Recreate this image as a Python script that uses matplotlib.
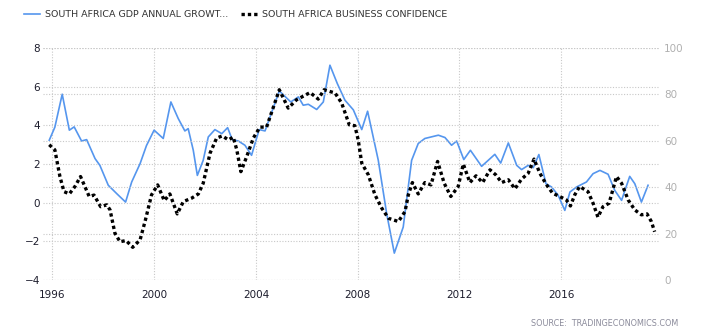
import numpy as np
import matplotlib
matplotlib.use('Agg')
import matplotlib.pyplot as plt

# GDP annual growth rate (%), left axis
gdp_t = [1995.88, 1996.10, 1996.39, 1996.67, 1996.86, 1997.15, 1997.35, 1997.68, 1997.87,
         1998.20, 1998.53, 1998.88, 1999.12, 1999.45, 1999.70, 2000.00, 2000.36, 2000.66,
         2000.95, 2001.21, 2001.34, 2001.54, 2001.70, 2001.93, 2002.13, 2002.39, 2002.66,
         2002.89, 2003.07, 2003.31, 2003.57, 2003.83, 2004.13, 2004.36, 2004.92, 2005.37,
         2005.67, 2005.86, 2006.06, 2006.39, 2006.65, 2006.91, 2007.20, 2007.50, 2007.83,
         2008.16, 2008.39, 2008.81, 2009.14, 2009.44, 2009.79, 2010.12, 2010.38, 2010.64,
         2011.17, 2011.43, 2011.69, 2011.89, 2012.17, 2012.43, 2012.87, 2013.39, 2013.62,
         2013.92, 2014.25, 2014.44, 2014.70, 2014.90, 2015.12, 2015.40, 2015.62, 2015.88,
         2016.14, 2016.34, 2016.60, 2016.99, 2017.25, 2017.52, 2017.84, 2018.10, 2018.37,
         2018.69, 2018.89, 2019.15, 2019.41]
gdp_v = [3.23, 3.90, 5.61, 3.75, 3.92, 3.19, 3.26, 2.28, 1.93,
         0.90, 0.47, 0.03, 1.07, 2.02, 2.95, 3.75, 3.32, 5.21,
         4.35, 3.71, 3.83, 2.71, 1.41, 2.19, 3.40, 3.78, 3.57,
         3.88, 3.26, 3.19, 2.97, 2.45, 3.78, 3.71, 5.78, 5.21,
         5.47, 5.04, 5.09, 4.82, 5.21, 7.11, 6.16, 5.30, 4.80,
         3.78, 4.73, 2.19, -0.57, -2.61, -1.26, 2.19, 3.06, 3.32,
         3.49, 3.37, 2.97, 3.19, 2.23, 2.71, 1.88, 2.50, 2.05,
         3.09, 1.93, 1.71, 1.93, 1.81, 2.49, 0.98, 0.81, 0.38,
         -0.40, 0.55, 0.81, 1.07, 1.50, 1.67, 1.47, 0.64, 0.12,
         1.36, 0.98, 0.03, 0.90]

# business confidence index, right axis
bc_t = [1995.88, 1996.10, 1996.30, 1996.46, 1996.67, 1996.89, 1997.11, 1997.28, 1997.45,
        1997.64, 1997.90, 1998.14, 1998.27, 1998.46, 1998.66, 1998.90, 1999.16, 1999.45,
        1999.66, 1999.90, 2000.14, 2000.40, 2000.62, 2000.91, 2001.15, 2001.48, 2001.74,
        2001.93, 2002.20, 2002.46, 2002.68, 2002.92, 2003.11, 2003.25, 2003.41, 2003.64,
        2003.90, 2004.16, 2004.42, 2004.92, 2005.27, 2005.60, 2006.13, 2006.45, 2006.68,
        2007.11, 2007.37, 2007.67, 2007.89, 2008.02, 2008.16, 2008.42, 2008.68, 2008.95,
        2009.21, 2009.60, 2009.86, 2009.99, 2010.15, 2010.38, 2010.64, 2010.88, 2011.14,
        2011.40, 2011.66, 2011.95, 2012.15, 2012.41, 2012.65, 2012.91, 2013.20, 2013.43,
        2013.66, 2013.92, 2014.18, 2014.44, 2014.70, 2014.93, 2015.16, 2015.40, 2015.66,
        2015.94, 2016.20, 2016.36, 2016.53, 2016.72, 2017.05, 2017.25, 2017.44, 2017.64,
        2017.88, 2018.17, 2018.37, 2018.63, 2018.89, 2019.15, 2019.37, 2019.54, 2019.67]
bc_v = [58.3, 56.1, 44.6, 38.1, 37.1, 40.3, 44.6, 40.3, 36.0,
        36.6, 31.6, 32.4, 30.2, 20.2, 16.5, 17.0, 14.1, 17.3,
        25.9, 36.7, 41.0, 34.2, 37.1, 28.5, 33.8, 35.3, 37.1,
        41.7, 54.7, 61.2, 62.1, 60.4, 61.6, 56.1, 46.7, 53.2,
        61.2, 65.9, 65.9, 82.0, 74.1, 77.7, 80.8, 78.0, 82.0,
        80.6, 76.3, 66.9, 66.5, 60.4, 50.4, 45.3, 36.7, 30.9,
        26.6, 25.2, 29.5, 36.7, 42.0, 37.1, 42.0, 41.0, 51.1,
        41.7, 36.0, 40.3, 50.0, 42.0, 44.9, 42.0, 47.5, 45.3,
        42.0, 43.2, 39.3, 43.5, 46.0, 52.1, 46.0, 41.4, 37.4,
        36.0, 34.5, 31.9, 36.7, 40.3, 38.1, 33.1, 27.1, 31.6,
        33.1, 44.6, 41.7, 34.5, 30.2, 28.1, 28.5, 25.2, 20.8]

year_ticks = [1996, 2000, 2004, 2008, 2012, 2016]
left_ticks = [-4, -2, 0, 2, 4, 6, 8]
right_ticks = [0, 20, 40, 60, 80, 100]

plt.rcParams['font.family'] = 'DejaVu Sans'

fig = plt.figure(figsize=(7.02, 3.36), dpi=100)
ax = fig.add_axes([43/702, 1 - 280/336, (660 - 43)/702, (280 - 48)/336])
ax2 = ax.twinx()

grid_kw = dict(color='#c8c8c8', linestyle=(0, (1, 1.5)), linewidth=0.8)
for a in (ax, ax2):
    for s in a.spines.values():
        s.set_visible(False)

ax.set_xlim(1995.635, 2019.88)
ax.set_ylim(-4, 8)
ax2.set_ylim(0, 100)
ax.set_xticks(year_ticks)
ax.set_yticks(left_ticks)
ax2.set_yticks(right_ticks)
ax.grid(True, **grid_kw)
ax2.grid(True, axis='y', **grid_kw)
ax.set_axisbelow(True)

ax.tick_params(axis='both', length=0, labelsize=7.5, labelcolor='#1c1c2c')
ax.tick_params(axis='y', pad=2)
ax.tick_params(axis='x', pad=7)
ax2.tick_params(axis='y', length=0, labelsize=7.5, labelcolor='#b0b0b0', pad=3)

ax.plot(gdp_t, gdp_v, color='#5596ee', linewidth=1.2, zorder=3,
        label='SOUTH AFRICA GDP ANNUAL GROWT...')
ax2.plot(bc_t, bc_v, color='black', linewidth=2.4, linestyle=(0, (1, 0.9)), zorder=4,
         label='SOUTH AFRICA BUSINESS CONFIDENCE')

h1, l1 = ax.get_legend_handles_labels()
h2, l2 = ax2.get_legend_handles_labels()
fig.legend(h1 + h2, l1 + l2, loc='upper left', bbox_to_anchor=(0.022, 0.995), ncol=2,
           frameon=False, fontsize=6.8, handlelength=1.7, handletextpad=0.5,
           columnspacing=1.4, labelcolor='#333333')

fig.text(678/702, 1 - 323/336, 'SOURCE:  TRADINGECONOMICS.COM', ha='right', va='center',
         fontsize=5.8, color='#8a8a9a')

plt.savefig('out.png', dpi=100)
